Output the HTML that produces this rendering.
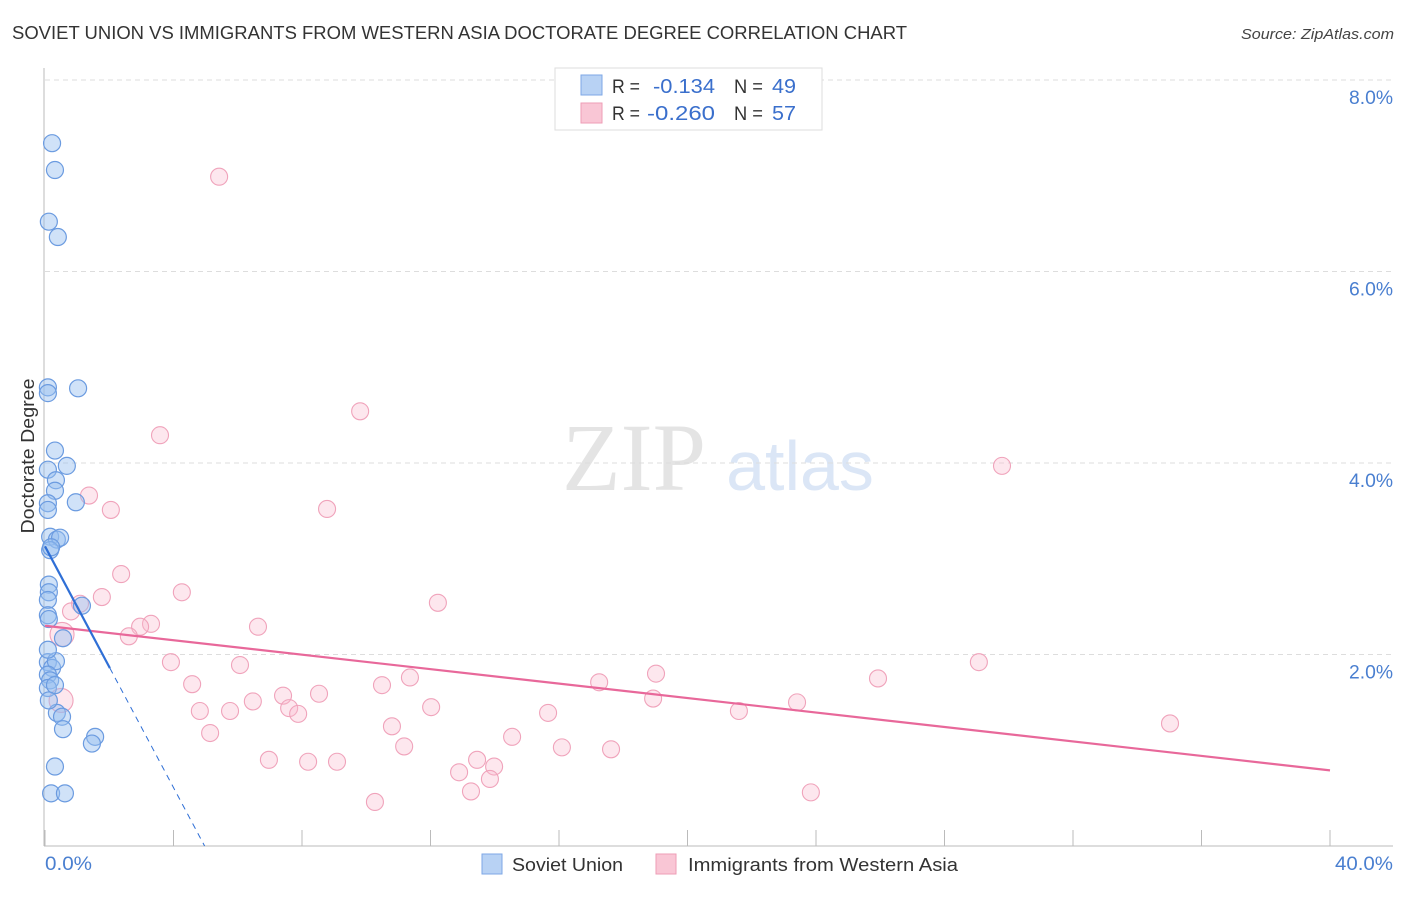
<!DOCTYPE html>
<html><head><meta charset="utf-8"><style>
body{margin:0;background:#fff;font-family:"Liberation Sans",sans-serif}
svg text{font-family:"Liberation Sans",sans-serif}
</style></head><body>
<svg id="chart" width="1406" height="892">
<text x="12" y="39" font-size="18" fill="#333" textLength="895" lengthAdjust="spacingAndGlyphs">SOVIET UNION VS IMMIGRANTS FROM WESTERN ASIA DOCTORATE DEGREE CORRELATION CHART</text>
<text x="1241" y="39" font-size="15" fill="#444" font-style="italic" textLength="153" lengthAdjust="spacingAndGlyphs">Source: ZipAtlas.com</text>
<text transform="translate(34,456) rotate(-90)" font-size="18" fill="#333" text-anchor="middle" textLength="155" lengthAdjust="spacingAndGlyphs">Doctorate Degree</text>
<g>
<text x="634" y="490" font-size="96" fill="#e4e4e4" text-anchor="middle" font-family="Liberation Serif,serif" style="font-family:'Liberation Serif',serif">ZIP</text>
<text x="800" y="490" font-size="70" fill="#dbe6f6" text-anchor="middle">atlas</text>
</g>
<g id="grid"></g><g id="axes"></g><g id="marks"></g>
<g>
<rect x="555" y="68" width="267" height="62" fill="#fff" stroke="#ddd"/>
<rect x="581" y="75" width="21" height="20" fill="#b8d2f4" stroke="#7ea7e6"/>
<rect x="581" y="103" width="21" height="20" fill="#f9c6d5" stroke="#ee9db6"/>
<text x="612" y="93" font-size="19" fill="#333" textLength="28" lengthAdjust="spacingAndGlyphs">R =</text><text x="653" y="93" font-size="20" fill="#3a6fcc" textLength="62" lengthAdjust="spacingAndGlyphs">-0.134</text>
<text x="734" y="93" font-size="19" fill="#333" textLength="29" lengthAdjust="spacingAndGlyphs">N =</text><text x="772" y="93" font-size="20" fill="#3a6fcc" textLength="24" lengthAdjust="spacingAndGlyphs">49</text>
<text x="612" y="120" font-size="19" fill="#333" textLength="28" lengthAdjust="spacingAndGlyphs">R =</text><text x="647" y="120" font-size="20" fill="#3a6fcc" textLength="68" lengthAdjust="spacingAndGlyphs">-0.260</text>
<text x="734" y="120" font-size="19" fill="#333" textLength="29" lengthAdjust="spacingAndGlyphs">N =</text><text x="772" y="120" font-size="20" fill="#3a6fcc" textLength="24" lengthAdjust="spacingAndGlyphs">57</text>
</g>
<g>
<rect x="482" y="854" width="20" height="20" fill="#b8d2f4" stroke="#7ea7e6"/>
<text x="512" y="871" font-size="18" fill="#333" textLength="111" lengthAdjust="spacingAndGlyphs">Soviet Union</text>
<rect x="656" y="854" width="20" height="20" fill="#f9c6d5" stroke="#ee9db6"/>
<text x="688" y="871" font-size="18" fill="#333" textLength="270" lengthAdjust="spacingAndGlyphs">Immigrants from Western Asia</text>
</g>
</svg>
<script>
const yTicks=[2,4,6,8];
const xTickVals=[0,4,8,12,16,20,24,28,32,36,40];
const blueX=[.22,.31,.12,.40,.09,.09,1.03,.31,.09,.68,.34,.31,.09,.09,.96,.16,.37,.47,.16,.19,.12,.12,.09,.09,.12,1.15,.56,.09,.22,.34,.09,.16,.09,.31,.37,.53,.56,1.56,1.46,.31,.19,.62,.09,.12];
const blueY=[7.34,7.06,6.52,6.36,4.79,4.73,4.78,4.13,3.93,3.97,3.82,3.71,3.58,3.51,3.59,3.23,3.20,3.22,3.09,3.12,2.73,2.65,2.57,2.41,2.37,2.51,2.17,1.92,1.86,1.93,1.79,1.73,1.65,1.68,1.39,1.35,1.22,1.14,1.07,.83,.55,.55,2.05,1.52];
const pinkX=[5.42,9.81,3.58,1.37,2.05,8.78,29.79,2.37,4.26,1.77,1.09,.81,12.23,3.30,2.96,2.61,6.63,.53,.50,3.92,6.07,4.58,10.49,11.36,17.25,19.02,25.93,29.07,7.41,8.53,6.47,4.82,5.76,7.60,7.88,12.02,15.66,18.93,21.60,23.41,5.14,10.80,14.54,11.18,16.09,17.62,35.02,6.97,8.19,9.09,13.45,12.89,13.98,13.85,13.26,10.27,23.84];
const pinkY=[6.99,4.54,4.29,3.66,3.51,3.52,3.97,2.84,2.65,2.60,2.53,2.45,2.54,2.32,2.29,2.19,2.29,2.21,1.52,1.92,1.89,1.69,1.68,1.76,1.71,1.80,1.75,1.92,1.57,1.59,1.51,1.41,1.41,1.44,1.38,1.45,1.39,1.54,1.41,1.50,1.18,1.25,1.14,1.04,1.03,1.01,1.28,.90,.88,.88,.90,.77,.83,.70,.57,.46,.56];
const pinkTrend=[2.30,0.79];
const blueTrend=[3.13,-0.63];
const NS='http://www.w3.org/2000/svg';
const X=v=>45+v/40*1285, Y=v=>846-v*95.75;
function mk(tag,attrs,parent){const e=document.createElementNS(NS,tag);for(const k in attrs)e.setAttribute(k,attrs[k]);document.getElementById(parent).appendChild(e);return e;}
yTicks.forEach(t=>{
 const g=mk('line',{x1:45,x2:1393,y1:Y(t),y2:Y(t),stroke:'#ddd','stroke-dasharray':'5,4'},'grid');
 
 
 const l=mk('text',{x:1393,y:Y(t)+24,'font-size':19,fill:'#4a7fd0','text-anchor':'end',textLength:44,lengthAdjust:'spacingAndGlyphs'},'grid');l.textContent=t.toFixed(1)+'%';
 
 
});
mk('line',{x1:44,x2:44,y1:68,y2:846,stroke:'#bbb'},'axes');
mk('line',{x1:44,x2:1393,y1:846,y2:846,stroke:'#bbb'},'axes');
xTickVals.forEach(t=>{const e=mk('line',{x1:X(t),x2:X(t),y1:830,y2:846,stroke:'#bbb'},'axes');
 
 });
let a=mk('text',{x:45,y:870,'font-size':19,fill:'#4a7fd0',textLength:47,lengthAdjust:'spacingAndGlyphs'},'axes');a.textContent='0.0%';


a=mk('text',{x:1335,y:870,'font-size':19,fill:'#4a7fd0',textLength:58,lengthAdjust:'spacingAndGlyphs'},'axes');a.textContent='40.0%';


pinkX.forEach((v,i)=>{const r=(i==17||i==18)?12:8.5;const c=mk('circle',{cx:X(v),cy:Y(pinkY[i]),r:r,fill:'rgba(248,185,205,0.35)',stroke:'#f0a3bb','stroke-width':1.1},'marks');
 
 });
blueX.forEach((v,i)=>{const c=mk('circle',{cx:X(v),cy:Y(blueY[i]),r:8.5,fill:'rgba(150,190,240,0.45)',stroke:'#6b9be0','stroke-width':1.2},'marks');
 
 });
let t=mk('line',{x1:X(0),y1:Y(pinkTrend[0]),x2:X(40),y2:Y(pinkTrend[1]),stroke:'#e8689a','stroke-width':2.2},'marks');


const bx=2.02, bz=-blueTrend[0]/blueTrend[1];
t=mk('line',{x1:X(0),y1:Y(blueTrend[0]),x2:X(bx),y2:Y(blueTrend[0]+blueTrend[1]*bx),stroke:'#2f6fd6','stroke-width':2.2},'marks');


t=mk('line',{x1:X(bx),y1:Y(blueTrend[0]+blueTrend[1]*bx),x2:X(bz),y2:Y(0),stroke:'#2f6fd6','stroke-width':1,'stroke-dasharray':'6,5'},'marks');


</script>
</body></html>
